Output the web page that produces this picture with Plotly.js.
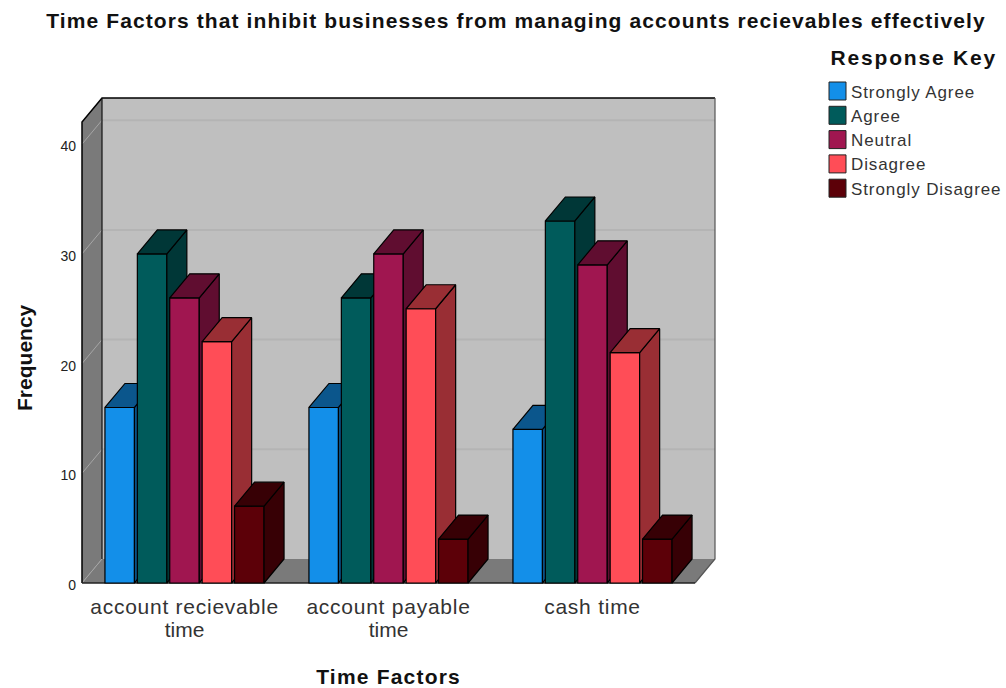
<!DOCTYPE html>
<html>
<head>
<meta charset="utf-8">
<script src="https://cdn.plot.ly/plotly-3.0.1.min.js"></script>
<style>
html,body{margin:0;padding:0;background:#fff}
#chart{width:1006px;height:688px}
.xtick text{letter-spacing:.75px}
.g-gtitle text{letter-spacing:1.1px}
.annotation-text{letter-spacing:.9px}
.annotation[data-index="0"] .annotation-text{letter-spacing:1.2px}
.annotation[data-index="1"] .annotation-text{letter-spacing:0}
.annotation[data-index="2"] .annotation-text{letter-spacing:1.8px}
</style>
</head>
<body>
<div id="chart"></div>
<script>
// Response counts per time factor
const factorsLine1 = ['account recievable', 'account payable', 'cash time'];
const factorsLine2 = ['time', 'time', ''];
const responses = ['Strongly Agree', 'Agree', 'Neutral', 'Disagree', 'Strongly Disagree'];
const stronglyAgree = [16, 16, 14];
const agree = [30, 26, 33];
const neutral = [26, 30, 29];
const disagree = [22, 25, 21];
const stronglyDisagree = [7, 4, 4];
const seriesValues = [stronglyAgree, agree, neutral, disagree, stronglyDisagree];
const yTicks = [0, 10, 20, 30, 40];

// Face colours: front, side, top
const frontColors = ['#138fe9', '#005b5b', '#a01650', '#ff4d57', '#5c0008'];
const sideColors = ['#0b568c', '#003737', '#600d30', '#992e34', '#370005'];
const topColors = ['#0b568c', '#003737', '#600d30', '#992e34', '#370005'];

const W = 1006, H = 688;
// Extents of the 3D box; the plot area is padded so its edge strokes are not clipped
const boxLeft = 82, boxRight = 715, boxTop = 98, boxBottom = 583, padPx = 3;
const plotLeft = boxLeft - padPx, plotRight = boxRight + padPx;
const plotTop = boxTop - padPx, plotBottom = boxBottom + padPx;
const pxPerUnitY = 10.97, pxPerGroup = 204;
const xMin = -(184.5 - boxLeft) / pxPerGroup;
const xMax = (boxRight - 184.5) / pxPerGroup;
const yMax = (boxBottom - boxTop) / pxPerUnitY;
const xRange = [xMin - padPx / pxPerGroup, xMax + padPx / pxPerGroup];
const yRange = [-padPx / pxPerUnitY, yMax + padPx / pxPerUnitY];
const depthX = 20 / pxPerGroup, depthY = 24 / pxPerUnitY;
const frontTop = yMax - depthY;
const frontRight = xMax - depthX;
const barWidth = 29.5 / pxPerGroup, barPitch = 32.4 / pxPerGroup;

const traces = [];

function polygon(points, fillcolor, lineColor, axes, lineWidth) {
  return Object.assign({
    type: 'scatter', mode: 'lines', fill: 'toself', fillcolor,
    x: points.map(p => p === null ? null : p[0]),
    y: points.map(p => p === null ? null : p[1]),
    line: {color: lineColor, width: lineWidth === undefined ? 1.2 : lineWidth},
    hoverinfo: 'skip', showlegend: false
  }, axes || {});
}
function edge(xs, ys, color, width) {
  return {type: 'scatter', mode: 'lines', x: xs, y: ys, line: {color, width},
    hoverinfo: 'skip', showlegend: false};
}

// Chart box: back wall, floor, left wall
const backLeft = xMin + depthX;
traces.push(polygon([[backLeft, depthY], [xMax, depthY], [xMax, yMax], [backLeft, yMax], [backLeft, depthY]], '#bfbfbf', '#bfbfbf', null, 0));
traces.push(polygon([[xMin, 0], [backLeft, depthY], [xMax, depthY], [frontRight, 0], [xMin, 0]], '#7a7a7a', '#7a7a7a', null, 0));
traces.push(polygon([[xMin, 0], [xMin, frontTop], [backLeft, yMax], [backLeft, depthY], [xMin, 0]], '#7a7a7a', '#7a7a7a', null, 0));

// Gridlines wrap from the back wall across the left wall
yTicks.forEach(v => {
  if (v > 0) traces.push(edge([backLeft, xMax], [v + depthY, v + depthY], '#b4b4b4', 2));
  traces.push(edge([xMin, backLeft], [v, v + depthY], '#a6a6a6', 1));
});

// Box outline
traces.push(edge([xMin, xMin, backLeft, xMax], [0, frontTop, yMax, yMax], '#000000', 1.5));
traces.push(edge([backLeft, backLeft], [depthY, yMax], '#111111', 1.2));
traces.push(edge([xMax, xMax, frontRight], [yMax, depthY, 0], '#555555', 1.2));
traces.push(edge([xMin, frontRight], [0, 0], '#222222', 1.5));

// Each series sits on its own overlay so a bar's front covers its neighbour's side face
seriesValues.forEach((values, s) => {
  const n = s + 2;
  const axes = {xaxis: 'x' + n, yaxis: 'y' + n};
  const centers = values.map((_, g) => g + (s - 2) * barPitch);
  traces.push(Object.assign({
    type: 'bar', name: responses[s], x: centers, y: values, width: barWidth,
    marker: {color: frontColors[s], line: {color: '#000000', width: 1.2}},
    showlegend: false
  }, axes));
  const sidePts = [], topPts = [];
  values.forEach((v, g) => {
    const xl = centers[g] - barWidth / 2, xr = centers[g] + barWidth / 2;
    sidePts.push([xr, 0], [xr + depthX, depthY], [xr + depthX, v + depthY], [xr, v], [xr, 0], null);
    topPts.push([xl, v], [xl + depthX, v + depthY], [xr + depthX, v + depthY], [xr, v], [xl, v], null);
  });
  traces.push(polygon(sidePts, sideColors[s], '#000000', axes));
  traces.push(polygon(topPts, topColors[s], '#000000', axes));
});

const layout = {
  width: W, height: H,
  margin: {l: plotLeft, r: W - plotRight, t: plotTop, b: H - plotBottom, pad: 0},
  paper_bgcolor: '#ffffff', plot_bgcolor: 'rgba(0,0,0,0)',
  showlegend: false, barmode: 'overlay',
  font: {family: '"Liberation Sans", Arial, sans-serif', color: '#000000'},
  title: {text: 'Time Factors that inhibit businesses from managing accounts recievables effectively',
    font: {size: 21, weight: 700, color: '#111111'}, x: 516 / W, xanchor: 'center', xref: 'container',
    y: 1 - 21 / H, yanchor: 'middle', yref: 'container'},
  xaxis: {range: xRange, tickmode: 'array', tickvals: factorsLine1.map((_, i) => i), ticktext: factorsLine1,
    showgrid: false, zeroline: false, showline: false, ticks: '', tickangle: 0,
    tickfont: {size: 21, color: '#333333'}, ticklabelstandoff: 6},
  yaxis: {range: yRange, tickmode: 'array', tickvals: yTicks, ticktext: yTicks.map(String),
    showgrid: false, zeroline: false, showline: false, ticks: '',
    tickfont: {size: 14, color: '#222222'}, ticklabelstandoff: 2, ticklabelshift: 2},
  annotations: [], shapes: []
};

seriesValues.forEach((_, s) => {
  const n = s + 2;
  layout['xaxis' + n] = {range: xRange, overlaying: 'x', visible: false, anchor: 'y' + n};
  layout['yaxis' + n] = {range: yRange, overlaying: 'y', visible: false, anchor: 'x' + n};
});

// Second row of the category labels sits on its own tick axis for tighter line spacing
const labelAxis = seriesValues.length + 2;
traces.push({type: 'scatter', mode: 'lines', x: [xRange[0]], y: [0], xaxis: 'x' + labelAxis, yaxis: 'y',
  hoverinfo: 'skip', showlegend: false, line: {width: 0}});
layout['xaxis' + labelAxis] = {range: xRange, overlaying: 'x', anchor: 'y', side: 'bottom',
  tickmode: 'array', tickvals: factorsLine2.map((_, i) => i), ticktext: factorsLine2,
  showgrid: false, zeroline: false, showline: false, ticks: '', tickangle: 0,
  tickfont: {size: 21, color: '#333333'}, ticklabelstandoff: 29};

function paperText(text, x, y, opts) {
  layout.annotations.push(Object.assign({
    text, xref: 'paper', yref: 'paper',
    x: (x - plotLeft) / (plotRight - plotLeft), y: (plotBottom - y) / (plotBottom - plotTop),
    showarrow: false, xanchor: 'left', yanchor: 'middle'
  }, opts));
}

// Axis titles
paperText('Time Factors', 388, 676, {xanchor: 'center', font: {size: 21, weight: 700, color: '#111111'}});
paperText('Frequency', 24, 358, {xanchor: 'center', textangle: -90, font: {size: 21, weight: 700, color: '#111111'}});

// Legend
paperText('Response Key', 834, 57, {font: {size: 21, weight: 700, color: '#111111'}});
responses.forEach((name, s) => {
  const cy = 91 + s * 24.3;
  paperText(name, 849, cy + 1, {font: {size: 17, color: '#333333'}});
  layout.shapes.push({type: 'rect', xref: 'paper', yref: 'paper',
    x0: (829 - plotLeft) / (plotRight - plotLeft), x1: (846 - plotLeft) / (plotRight - plotLeft),
    y0: (plotBottom - (cy - 9)) / (plotBottom - plotTop), y1: (plotBottom - (cy + 9)) / (plotBottom - plotTop),
    fillcolor: frontColors[s], line: {color: '#222222', width: 1}});
});

Plotly.newPlot('chart', traces, layout, {staticPlot: true, displayModeBar: false});
</script>
</body>
</html>
